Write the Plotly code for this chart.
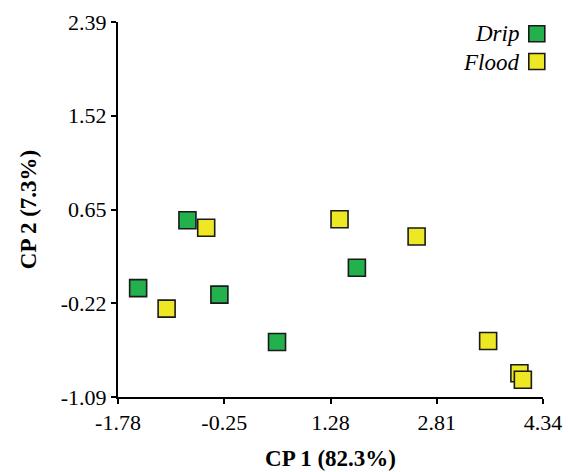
import plotly.graph_objects as go

drip_x = [-1.49, -0.78, -0.32, 0.51, 1.66]
drip_y = [-0.08, 0.55, -0.14, -0.58, 0.11]
flood_x = [-1.08, -0.51, 1.41, 2.52, 3.55, 4.00, 4.05]
flood_y = [-0.27, 0.48, 0.56, 0.40, -0.57, -0.87, -0.93]

x_ticks = [-1.78, -0.25, 1.28, 2.81, 4.34]
y_ticks = [-1.09, -0.22, 0.65, 1.52, 2.39]
x_labels = ["-1.78", "-0.25", "1.28", "2.81", "4.34"]
y_labels = ["-1.09", "-0.22", "0.65", "1.52", "2.39"]

FONT = "Liberation Serif"
marker_line = dict(color="#1a1a1a", width=1.6)

fig = go.Figure()
fig.add_trace(go.Scatter(x=drip_x, y=drip_y, mode="markers", name="",
                         marker=dict(symbol="square", size=17, color="#22b14c", line=marker_line)))
fig.add_trace(go.Scatter(x=flood_x, y=flood_y, mode="markers", name=" ",
                         marker=dict(symbol="square", size=17, color="#ede823", line=marker_line)))

fig.update_layout(
    width=568, height=472,
    margin=dict(l=118, r=25, t=22, b=75, autoexpand=False),
    plot_bgcolor="white", paper_bgcolor="white",
    font=dict(family=FONT, size=22, color="black"),
    legend=dict(x=1.056, y=1.019, xanchor="right", yanchor="top", bgcolor="rgba(0,0,0,0)",
                itemwidth=30, tracegroupgap=0, font=dict(size=19)),
    annotations=[
        dict(text="<i>Drip</i>", xref="paper", yref="paper", x=0.948, y=0.969, xanchor="right",
             yanchor="middle", showarrow=False, font=dict(family=FONT, size=23)),
        dict(text="<i>Flood</i>", xref="paper", yref="paper", x=0.948, y=0.893, xanchor="right",
             yanchor="middle", showarrow=False, font=dict(family=FONT, size=23)),
    ],
)
fig.update_xaxes(range=[-1.78, 4.34], tickvals=x_ticks, ticktext=x_labels,
                 showgrid=False, zeroline=False, showline=True, linecolor="black", linewidth=2,
                 ticks="outside", ticklen=5, tickwidth=2, tickcolor="black",
                 title=dict(text="<b>CP 1 (82.3%)</b>", font=dict(size=23), standoff=15))
fig.update_yaxes(range=[-1.09, 2.39], tickvals=y_ticks, ticktext=y_labels,
                 showgrid=False, zeroline=False, showline=True, linecolor="black", linewidth=2,
                 ticks="outside", ticklen=5, tickwidth=2, tickcolor="black",
                 title=dict(text="<b>CP 2 (7.3%)</b>", font=dict(size=23), standoff=18))

fig.write_html("out.html", config={"displayModeBar": False},
               post_script="document.body.style.margin='0';")
